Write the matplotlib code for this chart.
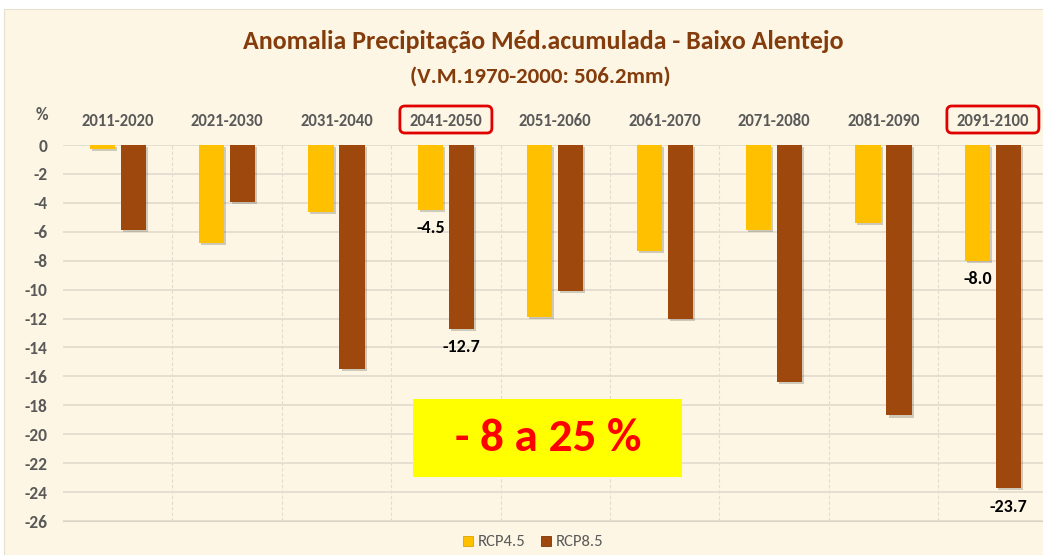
import numpy as np
import matplotlib
matplotlib.use("Agg")
import matplotlib.pyplot as plt
import matplotlib.patheffects as pe
from matplotlib.patches import FancyBboxPatch, Rectangle
from matplotlib.lines import Line2D
from matplotlib.transforms import IdentityTransform

plt.rcParams['font.family'] = ['Carlito', 'DejaVu Sans']

# data
decades = ["2011-2020", "2021-2030", "2031-2040", "2041-2050", "2051-2060",
           "2061-2070", "2071-2080", "2081-2090", "2091-2100"]
rcp45 = [-0.3, -6.8, -4.65, -4.5, -11.9, -7.35, -5.9, -5.4, -8.0]
rcp85 = [-5.85, -3.95, -15.5, -12.7, -10.1, -12.0, -16.4, -18.7, -23.7]
yticks = list(range(0, -27, -2))
boxed = ["2041-2050", "2091-2100"]
labelled = [3, 8]  # decades with value labels

bg = "#FDF6E4"
c45 = "#FFC000"
c85 = "#9E480E"
txt = "#595959"
W, H = 1043, 555

fig = plt.figure(figsize=(W/100, H/100), dpi=100)
fig.patch.set_facecolor("white")
fig.patches.append(Rectangle((4/W, 0), 1, 1 - 9/H, transform=fig.transFigure,
                             facecolor=bg, edgecolor="#e6e0d0", lw=0.8, zorder=-10))

# plot area runs slightly past the right edge, as in the reference
catw = 109.4
left = 63
ax = fig.add_axes([left/W, 34/H, 9*catw/W, 376/H])
ax.set_facecolor(bg)
n = len(decades)
x = np.arange(n)
w = 0.23
off = 0.142
shadow = [pe.SimplePatchShadow(offset=(1.5, -1.5), shadow_rgbFace="#000000", alpha=0.18), pe.Normal()]
ax.bar(x - off, rcp45, w, color=c45, zorder=3, path_effects=shadow)
ax.bar(x + off, rcp85, w, color=c85, zorder=3, path_effects=shadow)

ax.set_xlim(-0.5, n - 0.5)
ax.set_ylim(-26, 0)
ax.set_yticks(yticks)
ax.set_yticklabels([str(t) for t in yticks], fontsize=12.5, fontweight="bold", color=txt)
ax.tick_params(axis="y", length=0, pad=11)
ax.set_xticks([])
ax.yaxis.grid(True, color="#e2dbce", lw=1.2, zorder=0)
for k in range(1, n):
    ax.axvline(k - 0.5, color="#e2dbce", lw=0.8, ls=(0, (3, 2)), zorder=0)
for s in ["top", "right", "left"]:
    ax.spines[s].set_visible(False)
ax.spines["bottom"].set_color("#d9d2c5")

# decade labels above the plot, two of them boxed in red
for i, d in enumerate(decades):
    cx = left + (i + 0.5) * catw
    fig.text(cx/W, 1 - 121/H, d, ha="center", va="center", fontsize=12,
             fontweight="bold", color=txt)
    if d in boxed:
        fig.patches.append(FancyBboxPatch((cx - 46, H - 133), 92, 27,
                                          boxstyle="round,pad=0,rounding_size=5",
                                          transform=IdentityTransform(), fill=False,
                                          edgecolor="#E00000", lw=2))
fig.text(42/W, 1 - 115/H, "%", ha="center", va="center", fontsize=12.5,
         fontweight="bold", color=txt)

# value labels
for i in labelled:
    ax.text(x[i] - off, rcp45[i] - 1.25, "%.1f" % rcp45[i], ha="center", va="center",
            fontsize=13, fontweight="bold", color="black")
    ax.text(x[i] + off, rcp85[i] - 1.3, "%.1f" % rcp85[i], ha="center", va="center",
            fontsize=13, fontweight="bold", color="black")

# highlight box
fig.patches.append(Rectangle((413, H - 477), 269, 78, transform=IdentityTransform(),
                             facecolor="#FFFF00", edgecolor="none", zorder=5))
fig.text(548/W, 1 - 438/H, "- 8 a 25 %", ha="center", va="center",
         fontsize=34, fontweight="bold", color="#FF0000", zorder=6)

fig.text(543/W, 1 - 49/H, "Anomalia Precipitação Méd.acumulada - Baixo Alentejo",
         ha="center", va="baseline", fontsize=18.7, fontweight="bold", color="#843C0C")
fig.text(540/W, 1 - 83/H, "(V.M.1970-2000: 506.2mm)",
         ha="center", va="baseline", fontsize=16.5, fontweight="bold", color="#843C0C")

handles = [Line2D([], [], ls="none", marker="s", markersize=7, markerfacecolor=c45,
                  markeredgecolor="#d9a400", markeredgewidth=0.6),
           Line2D([], [], ls="none", marker="s", markersize=7, markerfacecolor=c85,
                  markeredgecolor="#7a360a", markeredgewidth=0.6)]
fig.legend(handles, ["RCP4.5", "RCP8.5"], loc="center", bbox_to_anchor=(533/W, 1 - 542/H),
           ncol=2, frameon=False, fontsize=12, handlelength=0.6,
           handletextpad=0.3, columnspacing=0.9, labelcolor=txt)

fig.savefig("out.png", dpi=100, facecolor=fig.get_facecolor())
